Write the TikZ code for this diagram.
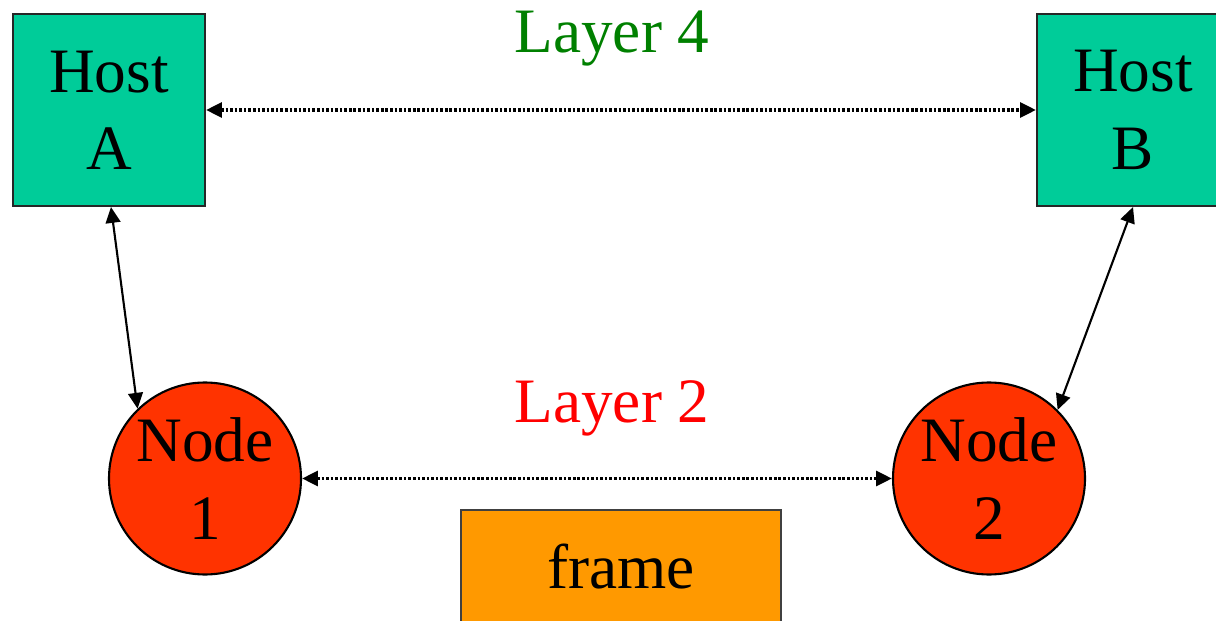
\documentclass[tikz,border=0pt]{standalone}
\usepackage{fontspec}
\setmainfont{Liberation Serif}
\usetikzlibrary{arrows.meta}

\definecolor{hostgreen}{RGB}{0,204,153}
\definecolor{nodered}{RGB}{255,51,0}
\definecolor{frameorange}{RGB}{255,153,0}
\definecolor{layergreen}{RGB}{0,128,0}

\tikzset{
    hostbox/.style={draw=black!85, line width=0.6pt, fill=hostgreen, minimum width=1.92cm, minimum height=1.92cm, align=center, inner sep=0pt, font=\fontsize{18}{22}\selectfont},
    router/.style={circle, draw=black, line width=0.6pt, fill=nodered, minimum size=1.92cm, align=center, inner sep=0pt, font=\fontsize{18}{22}\selectfont},
    framebox/.style={draw=black!75, line width=0.6pt, fill=frameorange, minimum width=3.2cm, minimum height=1.14cm, inner sep=0pt, font=\fontsize{18}{22}\selectfont},
    layer/.style={anchor=base, inner sep=0pt, font=\fontsize{18}{22}\selectfont},
    link/.style={{Triangle[length=4.5pt, width=4.2pt]}-{Triangle[length=4.5pt, width=4.2pt]}, line width=0.6pt},
    peerlink/.style={link, dash pattern=on 0.75pt off 0.55pt, line width=1pt},
}

\begin{document}
\begin{tikzpicture}
    \clip (0,0) rectangle (12.16,-6.21);

    \node[hostbox] (hosta) at (1.09,-1.10) {Host\\A};
    \node[hostbox] (hostb) at (11.33,-1.10) {Host\\B};
    \node[router] (node1) at (2.05,-4.785) {Node\\1};
    \node[router] (node2) at (9.89,-4.785) {Node\\2};
    \node[framebox] (frame) at (6.21,-5.67) {frame};

    \node[layer, text=layergreen] (layer4) at (6.12,-0.53) {Layer 4};
    \node[layer, text=red] (layer2) at (6.12,-4.22) {Layer 2};

    % peer to peer
    \draw[peerlink] (hosta.east) -- (hostb.west);
    \draw[peerlink] (node1.east) -- (node2.west);

    % host to node
    \draw[link] ([xshift=0.02cm]hosta.south) -- (node1.134);
    \draw[link] (hostb.south) -- (node2.45);

\end{tikzpicture}
\end{document}
